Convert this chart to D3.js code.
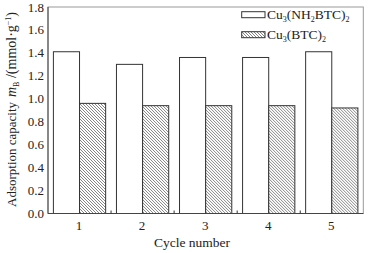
<!DOCTYPE html>
<html><head><meta charset="utf-8">
<script src="https://cdn.jsdelivr.net/npm/d3@7"></script>
<style>body{margin:0;background:#fff}svg{display:block}text{font-family:"Liberation Serif","Times New Roman",serif;fill:#222}</style>
</head><body>
<script>
const categories = ["1","2","3","4","5"];
const seriesNames = ["NH2","BTC"];
const nh2Values = [1.41, 1.30, 1.36, 1.36, 1.41];
const btcValues = [0.96, 0.94, 0.94, 0.94, 0.92];
const yTicks = [0.0,0.2,0.4,0.6,0.8,1.0,1.2,1.4,1.6,1.8];

const W=370,H=253, L=48, R=363.3, T=7, B=213.5;
const svg=d3.select("body").append("svg").attr("width",W).attr("height",H);
const defs=svg.append("defs");
const pat=defs.append("pattern").attr("id","hatch").attr("patternUnits","userSpaceOnUse").attr("width",3).attr("height",3);
pat.append("rect").attr("width",3).attr("height",3).attr("fill","#fff");
pat.append("path").attr("d","M-1,-1 L4,4 M-1,2 L1,4 M2,-1 L4,1").attr("stroke","#666").attr("stroke-width",0.8);

const x0=d3.scaleBand().domain(categories).range([L,R]).padding(0);
const x1=d3.scaleBand().domain(seriesNames).range([5.4, x0.bandwidth()-5.4]);
const y=d3.scaleLinear().domain([0,1.8]).range([B,T]);

const data=categories.map((c,i)=>({c, v:[{s:"NH2",v:nh2Values[i]},{s:"BTC",v:btcValues[i]}]}));
const g=svg.selectAll("g.grp").data(data).enter().append("g").attr("transform",d=>`translate(${x0(d.c)},0)`);
g.selectAll("rect").data(d=>d.v).enter().append("rect")
 .attr("x",d=>x1(d.s)).attr("width",x1.bandwidth())
 .attr("y",d=>y(d.v)).attr("height",d=>B-y(d.v))
 .attr("fill",d=>d.s==="NH2"?"#fff":"url(#hatch)")
 .attr("stroke","#333").attr("stroke-width",1);

// frame
svg.append("rect").attr("x",L).attr("y",T).attr("width",R-L).attr("height",B-T).attr("fill","none").attr("stroke","#999").attr("stroke-width",1);
svg.append("line").attr("x1",L).attr("x2",L).attr("y1",T).attr("y2",B).attr("stroke","#444");
svg.append("line").attr("x1",L).attr("x2",R).attr("y1",B).attr("y2",B).attr("stroke","#444");

// bottom boundary ticks
svg.selectAll("line.bt").data(categories.slice(1)).enter().append("line")
 .attr("x1",d=>x0(d)).attr("x2",d=>x0(d)).attr("y1",B).attr("y2",B-3).attr("stroke","#333");

// y tick labels
svg.selectAll("text.yt").data(yTicks).enter().append("text")
 .attr("x",L-4).attr("y",d=>y(d)).attr("dy","0.35em").attr("text-anchor","end")
 .attr("font-size",13).text(d=>d.toFixed(1));

// x tick labels
svg.selectAll("text.xt").data(categories).enter().append("text")
 .attr("x",d=>x0(d)+x0.bandwidth()/2-0.5).attr("y",229.5).attr("text-anchor","middle")
 .attr("font-size",13).text(d=>d);

svg.append("text").attr("x",192).attr("y",246.5).attr("text-anchor","middle").attr("font-size",13.5).text("Cycle number");

// y title
svg.append("text").attr("transform","translate(16,207) rotate(-90)").attr("text-anchor","start").attr("font-size",13).text("Adsorption capacity");
const yt=svg.append("text").attr("transform","translate(16,97) rotate(-90)").attr("text-anchor","start").attr("font-size",14);
yt.append("tspan").attr("font-style","italic").text("m");
yt.append("tspan").attr("font-size",8).attr("dy",2.5).text("B");
yt.append("tspan").attr("dy",-2.5).text(" /(mmol·g");
yt.append("tspan").attr("font-size",8).attr("dy",-5).text("−1");
yt.append("tspan").attr("dy",5).text(")");

// legend
const legend=[{s:"NH2",parts:[["Cu",0],["3",1],["(NH",0],["2",1],["BTC)",0],["2",1]]},{s:"BTC",parts:[["Cu",0],["3",1],["(BTC)",0],["2",1]]}];
legend.forEach((l,i)=>{
  const yy=11.7+i*20;
  svg.append("rect").attr("x",241.7).attr("y",yy).attr("width",23.3).attr("height",6)
   .attr("fill",l.s==="NH2"?"#fff":"url(#hatch)").attr("stroke","#333");
  const t=svg.append("text").attr("x",267).attr("y",yy+7.5).attr("font-size",13.5);
  let sub=false;
  l.parts.forEach(p=>{
    const ts=t.append("tspan").text(p[0]);
    if(p[1]&&!sub){ts.attr("font-size",8).attr("dy",3);sub=true;}
    else if(!p[1]&&sub){ts.attr("dy",-3);sub=false;}
    else if(p[1]) ts.attr("font-size",8);
  });
});
</script>
</body></html>
